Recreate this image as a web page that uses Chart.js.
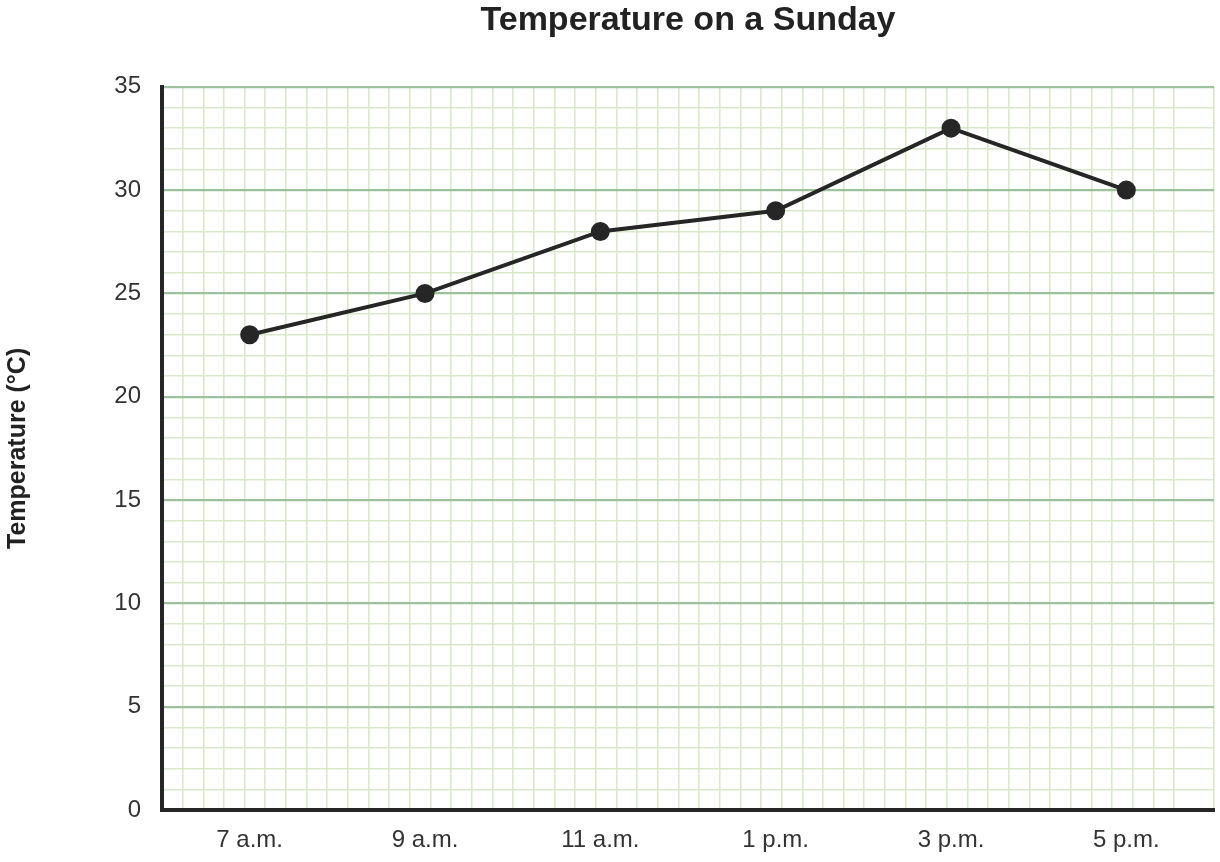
<!DOCTYPE html>
<html lang="en">
<head>
    <meta charset="UTF-8" />
    <title>Temperature on a Sunday</title>
    <script src="https://cdn.jsdelivr.net/npm/chart.js"></script>
    <style>
        html, body { margin: 0; padding: 0; background: #fff; }
        #wrap { width: 1220px; height: 862px; }
    </style>
</head>
<body>
    <div id="wrap"><canvas id="tempChart"></canvas></div>

    <script>
        // data
        const times = ["7 a.m.", "9 a.m.", "11 a.m.", "1 p.m.", "3 p.m.", "5 p.m."];
        const temperatures = [23, 25, 28, 29, 33, 30];
        const yTickLabels = [0, 5, 10, 15, 20, 25, 30, 35];

        const FONT = "'Liberation Sans', Arial, sans-serif";
        const minorGreen = "#d8e9c9";
        const majorGreen = "#9cc29c";
        const ink = "#262626";

        new Chart(document.getElementById("tempChart"), {
            type: "line",
            data: {
                labels: times,
                datasets: [{
                    data: temperatures,
                    borderColor: ink,
                    borderWidth: 4,
                    backgroundColor: ink,
                    pointBackgroundColor: ink,
                    pointBorderColor: ink,
                    pointRadius: 7.5,
                    tension: 0,
                    xAxisID: "x",
                    yAxisID: "y"
                }]
            },
            options: {
                responsive: true,
                maintainAspectRatio: false,
                animation: false,
                layout: { autoPadding: false, padding: { left: 3, right: 6, top: 0, bottom: 0 } },
                plugins: {
                    legend: { display: false },
                    tooltip: { enabled: false },
                    title: {
                        display: true,
                        fullSize: false,
                        text: "Temperature on a Sunday",
                        color: "#222",
                        font: { family: FONT, size: 34, weight: "bold" },
                        padding: { top: 0, bottom: 46 }
                    }
                },
                scales: {
                    x: {
                        type: "category",
                        position: "bottom",
                        offset: true,
                        grid: { display: false, drawTicks: false },
                        border: { display: true, color: ink, width: 4 },
                        ticks: {
                            color: "#333",
                            padding: 16,
                            font: { family: FONT, size: 24 }
                        },
                        afterFit: (s) => { s.height = 52; }
                    },
                    xg: {
                        type: "linear",
                        position: "top",
                        min: 0,
                        max: 50.93,
                        grid: {
                            drawTicks: false,
                            lineWidth: 1.6,
                            color: (c) => (c.tick && c.tick.value === 0) ? "rgba(0,0,0,0)" : minorGreen
                        },
                        border: { display: false },
                        ticks: { display: false, stepSize: 1, autoSkip: false },
                        afterFit: (s) => { s.height = 0; }
                    },
                    y: {
                        type: "linear",
                        min: 0,
                        max: 35,
                        grid: {
                            drawTicks: false,
                            lineWidth: (c) => (c.tick && c.tick.value % 5 === 0) ? 2.2 : 1.6,
                            color: (c) => {
                                const v = c.tick ? c.tick.value : 0;
                                if (v === 0) return "rgba(0,0,0,0)";
                                return v % 5 === 0 ? majorGreen : minorGreen;
                            }
                        },
                        border: { display: true, color: ink, width: 4 },
                        ticks: {
                            stepSize: 1,
                            autoSkip: false,
                            color: "#333",
                            padding: 21,
                            font: { family: FONT, size: 24 },
                            callback: (v) => yTickLabels.includes(v) ? String(v) : ""
                        },
                        title: {
                            display: true,
                            text: "Temperature (°C)",
                            color: "#222",
                            font: { family: FONT, size: 25, weight: "bold" },
                            padding: { top: 0, bottom: 0 }
                        },
                        afterFit: (s) => { s.width = 159; }
                    }
                }
            }
        });
    </script>
</body>
</html>
